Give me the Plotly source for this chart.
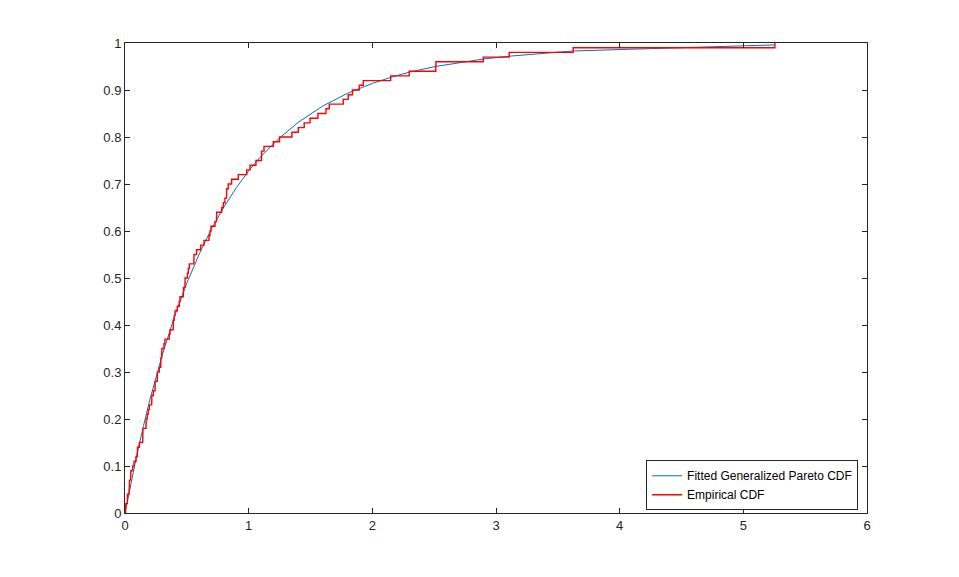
import plotly.graph_objects as go

# Sorted sample values (x at which the empirical CDF steps by 0.01)
sample_x = [
    0.005, 0.006, 0.019, 0.020, 0.033, 0.035, 0.036, 0.046, 0.047, 0.062,
    0.073, 0.089, 0.100, 0.101, 0.116, 0.143, 0.144, 0.145, 0.170, 0.171,
    0.180, 0.188, 0.197, 0.216, 0.217, 0.229, 0.243, 0.244, 0.261, 0.262,
    0.277, 0.289, 0.290, 0.297, 0.298, 0.315, 0.323, 0.358, 0.364, 0.390,
    0.391, 0.398, 0.404, 0.423, 0.439, 0.445, 0.472, 0.473, 0.485, 0.486,
    0.505, 0.512, 0.520, 0.557, 0.558, 0.579, 0.612, 0.639, 0.679, 0.687,
    0.695, 0.728, 0.740, 0.741, 0.782, 0.795, 0.808, 0.821, 0.822, 0.835,
    0.862, 0.916, 0.984, 1.011, 1.059, 1.104, 1.105, 1.124, 1.199, 1.250,
    1.350, 1.401, 1.449, 1.496, 1.560, 1.625, 1.652, 1.765, 1.805, 1.839,
    1.894, 1.927, 2.148, 2.298, 2.513, 2.514, 2.897, 3.107, 3.624, 5.255,
]
ecdf_levels = [i / 100 for i in range(101)]  # 0, 0.01, ..., 1.00

# Fitted Generalized Pareto CDF
fit_x = [0, 0.05, 0.1, 0.15, 0.2, 0.3, 0.4, 0.5, 0.6, 0.7, 0.8, 0.9, 1.0,
         1.1, 1.25, 1.4, 1.6, 1.8, 2.0, 2.15, 2.3, 2.51, 2.9, 3.11, 3.62, 5.255]
fit_F = [0, 0.067, 0.129, 0.186, 0.240, 0.335, 0.418, 0.489, 0.551, 0.605,
         0.651, 0.692, 0.728, 0.759, 0.798, 0.831, 0.866, 0.893, 0.914, 0.927,
         0.938, 0.950, 0.966, 0.972, 0.983, 0.996]

x_ticks = [0, 1, 2, 3, 4, 5, 6]
y_ticks = [0, 0.1, 0.2, 0.3, 0.4, 0.5, 0.6, 0.7, 0.8, 0.9, 1]
y_tick_text = ["0", "0.1", "0.2", "0.3", "0.4", "0.5", "0.6", "0.7", "0.8", "0.9", "1"]

stairs_x = [sample_x[0]] + sample_x

fig = go.Figure()
fig.add_trace(go.Scatter(
    x=fit_x, y=fit_F, mode="lines",
    line=dict(color="#0072BD", width=1),
    name="Fitted Generalized Pareto CDF",
))
fig.add_trace(go.Scatter(
    x=stairs_x, y=ecdf_levels, mode="lines",
    line=dict(color="#FF0000", width=1.4, shape="hv"),
    name="Empirical CDF",
))

axis_common = dict(
    showgrid=False, zeroline=False, showline=True, linecolor="#262626",
    linewidth=1, mirror="ticks", ticks="inside", ticklen=5,
    tickcolor="#262626", tickwidth=1,
    tickfont=dict(family="Liberation Sans, Arial, sans-serif", size=13, color="#262626"),
)

fig.update_layout(
    width=951, height=569,
    paper_bgcolor="white", plot_bgcolor="white",
    margin=dict(l=117, r=92, t=35, b=64),
    xaxis=dict(range=[0, 6], tickvals=x_ticks, ticktext=[str(v) for v in x_ticks], **axis_common),
    yaxis=dict(range=[0, 1], tickvals=y_ticks, ticktext=y_tick_text, **axis_common),
    legend=dict(
        x=0.988, y=0.059, xanchor="right", yanchor="middle",
        bgcolor="white", bordercolor="#262626", borderwidth=1,
        font=dict(family="Liberation Sans, Arial, sans-serif", size=12, color="#000000"),
        tracegroupgap=0, itemwidth=30,
    ),
    showlegend=True,
)

fig.write_html("out.html")
